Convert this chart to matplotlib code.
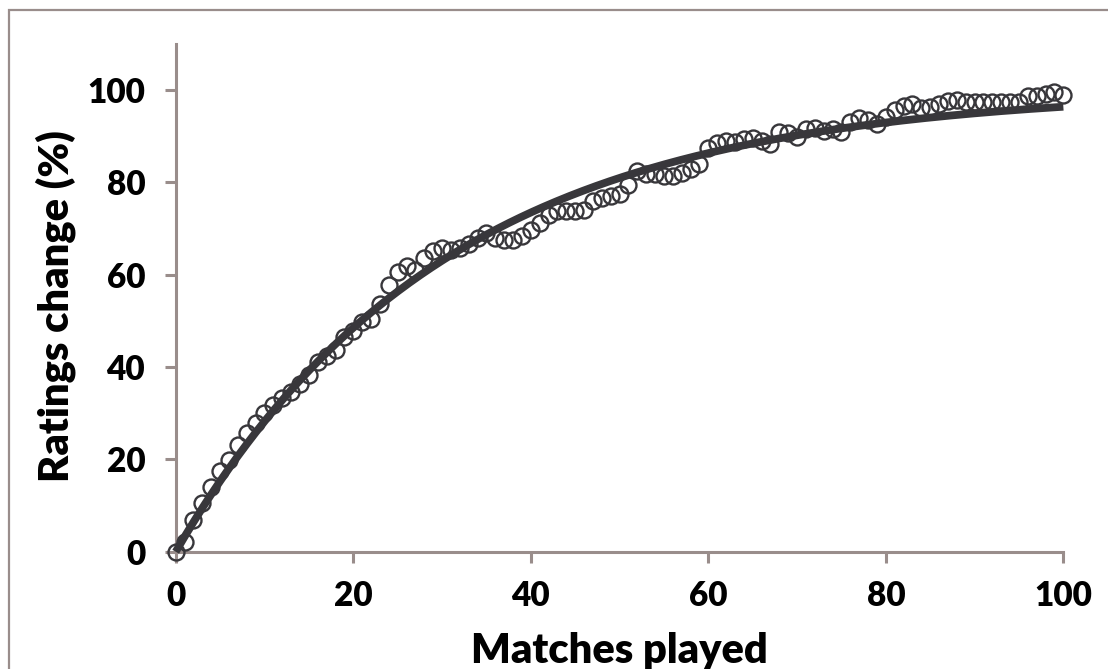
import numpy as np
import matplotlib
matplotlib.use("Agg")
import matplotlib.pyplot as plt
from matplotlib.patches import Rectangle

# data
matches = list(range(0, 101))
ratings = [0, 2.2, 6.9, 10.5, 14.1, 17.4, 19.9, 23.1, 25.7, 27.9,
           30.0, 31.8, 33.3, 34.6, 36.3, 38.3, 41.0, 42.3, 43.6, 46.6,
           47.9, 49.8, 50.4, 53.6, 57.8, 60.6, 61.8, 61.0, 63.6, 65.1,
           65.8, 65.4, 65.8, 66.6, 68.0, 69.0, 67.9, 67.6, 67.6, 68.3,
           69.6, 71.2, 73.0, 73.8, 73.8, 73.8, 74.1, 75.9, 76.6, 77.1,
           77.4, 79.5, 82.5, 81.7, 81.7, 81.3, 81.3, 82.0, 82.8, 83.9,
           87.5, 88.5, 89.0, 88.8, 89.4, 89.6, 89.0, 88.2, 90.8, 90.6,
           89.8, 91.6, 91.8, 91.2, 91.6, 91.0, 93.0, 94.0, 93.4, 92.6,
           94.2, 95.6, 96.6, 97.0, 96.0, 96.3, 97.0, 97.6, 97.8, 97.4,
           97.4, 97.4, 97.3, 97.3, 97.3, 97.3, 98.7, 98.8, 99.2, 99.6,
           98.9]
xticks = [0, 20, 40, 60, 80, 100]
yticks = [0, 20, 40, 60, 80, 100]
ceiling = 100  # ratings change saturates at 100 %

GRID = '#998d8b'
INK = '#38373b'


def fit_tau(x, y, a):
    """least squares time constant of y = a * (1 - exp(-x / tau))"""
    taus = np.linspace(5, 80, 3001)
    errs = [np.sum((a * (1 - np.exp(-x / t)) - y) ** 2) for t in taus]
    return taus[int(np.argmin(errs))]


plt.rcParams['font.family'] = ['Lato', 'DejaVu Sans']
plt.rcParams['font.weight'] = 'bold'

fig = plt.figure(figsize=(11.08, 6.69), dpi=100)
ax = fig.add_axes([0.1586, 0.1753, 0.8011, 0.7592])

x = np.array(matches, dtype=float)
y = np.array(ratings)
tau = fit_tau(x, y, ceiling)
xs = np.linspace(0, 100, 400)

ax.plot(x, y, 'o', ms=11.5, mfc='none', mec=INK, mew=1.7, clip_on=False, zorder=3)
ax.plot(xs, ceiling * (1 - np.exp(-xs / tau)), color=INK, lw=5.6,
        solid_capstyle='butt', clip_on=False, zorder=4)

ax.set_xlim(0, 100)
ax.set_ylim(0, 110)
ax.set_xticks(xticks)
ax.set_yticks(yticks)

for side in ['top', 'right']:
    ax.spines[side].set_visible(False)
for side in ['left', 'bottom']:
    ax.spines[side].set_color(GRID)
    ax.spines[side].set_linewidth(2.2)

ax.tick_params(axis='both', direction='out', length=8, width=2.2, color=GRID,
               labelsize=24, labelcolor='black')
ax.tick_params(axis='x', pad=12)
ax.tick_params(axis='y', pad=14)
for lab in ax.get_xticklabels() + ax.get_yticklabels():
    lab.set_fontweight('heavy')

ax.set_xlabel('Matches played', fontsize=30, fontweight='heavy')
ax.xaxis.set_label_coords(0.5, -0.219)
ax.xaxis.label.set_va('baseline')
ax.set_ylabel('Ratings change (%)', fontsize=30, fontweight='heavy')
ax.yaxis.set_label_coords(-0.135, 0.484)
ax.yaxis.label.set_va('center')

fig.patches.append(Rectangle((9 / 1108, -0.1), 1.2, 1.1 - 10 / 669,
                             transform=fig.transFigure, fill=False,
                             ec=GRID, lw=1.6))

fig.savefig('out.png', dpi=100)
plt.close(fig)
